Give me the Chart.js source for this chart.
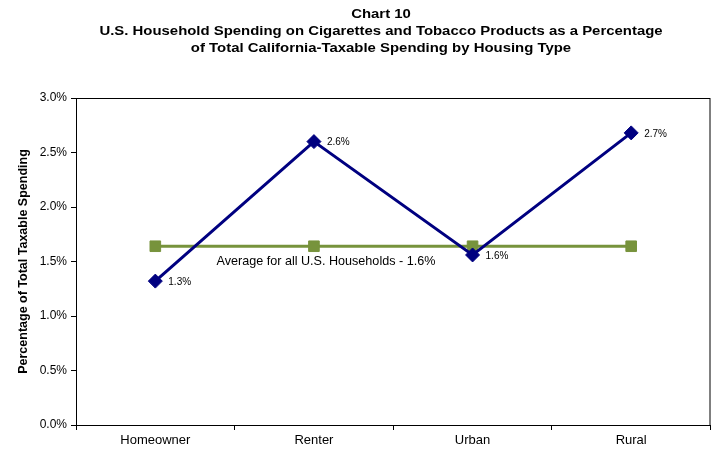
<!DOCTYPE html>
<html>
<head>
<meta charset="utf-8">
<script src="https://cdn.jsdelivr.net/npm/chart.js@4/dist/chart.umd.min.js"></script>
<style>
  html, body { margin: 0; padding: 0; background: #fff; }
  #wrap { width: 719px; height: 449px; }
</style>
</head>
<body>
<div id="wrap"><canvas id="chart" width="719" height="449"></canvas></div>
<script>
// Housing types and spending shares (percent)
const housingTypes = ['Homeowner', 'Renter', 'Urban', 'Rural'];
const tobaccoShare = [1.32, 2.60, 1.56, 2.68];
const usAverage = [1.64, 1.64, 1.64, 1.64];
const yTicks = [0, 0.5, 1.0, 1.5, 2.0, 2.5, 3.0];

const titleLines = [
    'Chart 10',
    'U.S. Household Spending on Cigarettes and Tobacco Products as a Percentage',
    'of Total California-Taxable Spending by Housing Type'
];
const averageLabel = 'Average for all U.S. Households - 1.6%';

const FONT = '"Liberation Sans", Arial, sans-serif';

// Title, frame, point labels and the average note
const decorations = {
    id: 'decorations',
    afterDraw(chart) {
        const ctx = chart.ctx;
        const area = chart.chartArea;
        const x = chart.scales.x;
        const y = chart.scales.y;

        ctx.save();
        ctx.strokeStyle = '#000';
        ctx.lineWidth = 1;
        ctx.strokeRect(area.left + 0.5, area.top + 0.5, area.right - area.left - 1, area.bottom - area.top);

        ctx.fillStyle = '#000';
        ctx.textBaseline = 'middle';

        // title, a little wide
        ctx.save();
        ctx.textAlign = 'center';
        ctx.font = 'bold 13px ' + FONT;
        ctx.translate(381, 0);
        ctx.scale(1.147, 1);
        titleLines.forEach((line, i) => ctx.fillText(line, 0, 14 + i * 17));
        ctx.restore();

        // value labels beside the diamonds
        ctx.font = '10px ' + FONT;
        ctx.textAlign = 'left';
        tobaccoShare.forEach((v, i) => {
            ctx.fillText(v.toFixed(1) + '%', x.getPixelForValue(i) + 13, y.getPixelForValue(v) + 1);
        });

        // note under the average line
        ctx.font = '12.6px ' + FONT;
        ctx.textAlign = 'center';
        const midX = (x.getPixelForValue(0) + x.getPixelForValue(2)) / 2 + 12;
        ctx.fillText(averageLabel, midX, y.getPixelForValue(usAverage[0]) + 15);
        ctx.restore();
    }
};

new Chart(document.getElementById('chart'), {
    type: 'line',
    data: {
        labels: housingTypes,
        datasets: [{
            label: 'Housing type',
            data: tobaccoShare,
            borderColor: '#000080',
            backgroundColor: '#000080',
            borderWidth: 3,
            pointStyle: 'rectRot',
            pointRadius: 7,
            pointBorderWidth: 1,
            tension: 0
        }, {
            label: 'U.S. average',
            data: usAverage,
            borderColor: '#77933C',
            backgroundColor: '#77933C',
            borderWidth: 3,
            pointStyle: 'rect',
            pointRadius: 7.5,
            pointBorderWidth: 1,
            tension: 0
        }]
    },
    options: {
        responsive: false,
        animation: false,
        layout: { padding: { top: 98, right: 4, bottom: 0, left: 0 } },
        plugins: {
            legend: { display: false },
            title: { display: false },
            tooltip: { enabled: false }
        },
        scales: {
            x: {
                offset: true,
                grid: {
                    offset: true,
                    drawOnChartArea: false,
                    drawTicks: true,
                    tickLength: 5,
                    color: '#000'
                },
                border: { color: '#000' },
                ticks: {
                    color: '#000',
                    font: { family: FONT, size: 13 },
                    padding: 3
                },
                afterFit(scale) { scale.height = 24; }
            },
            y: {
                min: 0,
                max: 3,
                afterBuildTicks(scale) {
                    scale.ticks = yTicks.map(v => ({ value: v }));
                },
                grid: {
                    drawOnChartArea: false,
                    drawTicks: true,
                    tickLength: 5,
                    color: '#000'
                },
                border: { color: '#000' },
                ticks: {
                    color: '#000',
                    font: { family: FONT, size: 12 },
                    padding: 4,
                    callback: v => v.toFixed(1) + '%'
                },
                title: {
                    display: true,
                    text: 'Percentage of Total Taxable Spending',
                    color: '#000',
                    font: { family: FONT, size: 12.5, weight: 'bold' },
                    padding: { top: 16, bottom: 0 }
                },
                afterFit(scale) { scale.width = 76; }
            }
        }
    },
    plugins: [decorations]
});
</script>
</body>
</html>
